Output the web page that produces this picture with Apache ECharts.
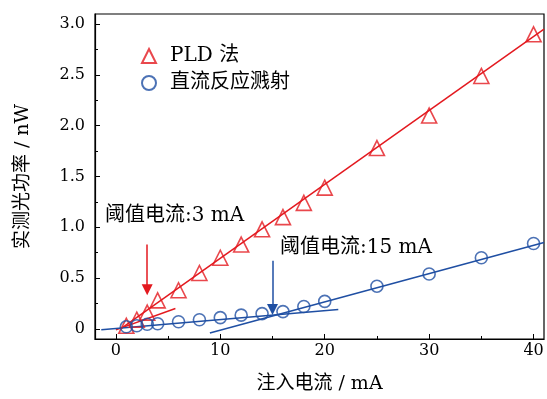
<!DOCTYPE html>
<html>
<head>
<meta charset="utf-8">
<script src="https://cdn.jsdelivr.net/npm/echarts@6/dist/echarts.min.js"></script>
<style>html,body{margin:0;padding:0;background:#fff}#c{width:547px;height:399px}</style>
</head>
<body>
<div id="c"></div>
<script>
// ---- data ----
const currentPLD = [1, 2, 3, 4, 6, 8, 10, 12, 14, 16, 18, 20, 25, 30, 35, 40];
const powerPLD = [0.03, 0.09, 0.16, 0.28, 0.38, 0.55, 0.70, 0.83, 0.98, 1.10, 1.24, 1.39, 1.78, 2.10, 2.49, 2.90];
const currentDC = [1, 2, 3, 4, 6, 8, 10, 12, 14, 16, 18, 20, 25, 30, 35, 40];
const powerDC = [0.02, 0.03, 0.045, 0.05, 0.07, 0.09, 0.11, 0.135, 0.15, 0.17, 0.22, 0.27, 0.42, 0.54, 0.70, 0.84];
const fitPLDLow = [[0.0, -0.01], [5.7, 0.2]];
const fitPLDHigh = [[0.45, 0.0], [41, 2.95]];
const fitDCLow = [[-1.4, -0.01], [21.3, 0.19]];
const fitDCHigh = [[9.0, -0.04], [41, 0.85]];
const arrowPLD = [[3, 0.83], [3, 0.385]];
const arrowDC = [[15, 0.67], [15, 0.19]];
const xTicks = [0, 10, 20, 30, 40];
const xMinorTicks = [5, 15, 25, 35];
const yTicks = [0, 0.5, 1.0, 1.5, 2.0, 2.5, 3.0];
const yMinorTicks = [0.25, 0.75, 1.25, 1.75, 2.25, 2.75];
const seriesNames = ['PLD 法', '直流反应溅射'];
const xTitle = '注入电流 / mA';
const yTitle = '实测光功率 / nW';
const note1 = '阈值电流:3 mA';
const note2 = '阈值电流:15 mA';

const RED = '#e3191f';
const BLUE = '#1f4fa3';
const FF = '"DejaVu Serif", "Noto Sans CJK SC", serif';

const zip = (a, b) => a.map((v, i) => [v, b[i]]);

const chart = echarts.init(document.getElementById('c'), null, {renderer: 'canvas'});

function fitLine(pts, color) {
  return {type: 'line', data: pts, symbol: 'none', clip: true, silent: true, z: 2,
    lineStyle: {color: color, width: 1.5}};
}
function arrow(pts, color) {
  return {type: 'line', data: [], silent: true, z: 3,
    markLine: {silent: true, animation: false, symbol: ['none', 'triangle'], symbolSize: 11,
      label: {show: false},
      lineStyle: {color: color, width: 1.5, type: 'solid'},
      itemStyle: {color: color},
      data: [[{coord: pts[0]}, {coord: pts[1]}]]}};
}

const option = {
  animation: false,
  backgroundColor: '#fff',
  grid: {left: 95, right: 3, top: 14, bottom: 58, show: true, borderColor: '#000', borderWidth: 1.2},
  legend: {
    data: seriesNames, orient: 'vertical', left: 136, top: 41,
    itemWidth: 14, itemHeight: 14, itemGap: 7,
    textStyle: {fontSize: 20, lineHeight: 20, fontFamily: FF, color: '#000', padding: [0, 0, 0, 9]}
  },
  xAxis: [{
    type: 'value', min: -2, max: 41,
    name: xTitle, nameLocation: 'middle', nameGap: 36,
    nameTextStyle: {fontSize: 19, fontFamily: FF, color: '#000'},
    axisLine: {onZero: false, lineStyle: {color: '#000', width: 1.2}},
    axisTick: {inside: true, length: 5, customValues: xTicks, lineStyle: {color: '#000'}},
    axisLabel: {customValues: xTicks, fontSize: 16, fontFamily: FF, color: '#000', margin: 4},
    splitLine: {show: false}
  }, {
    type: 'value', min: -2, max: 41, position: 'bottom',
    axisLine: {show: false, onZero: false},
    axisTick: {inside: true, length: 3, customValues: xMinorTicks, lineStyle: {color: '#000'}},
    axisLabel: {show: false}, splitLine: {show: false}
  }],
  yAxis: [{
    type: 'value', min: -0.1, max: 3.1,
    name: yTitle, nameLocation: 'middle', nameGap: 62, nameRotate: 90,
    nameTextStyle: {fontSize: 19, fontFamily: FF, color: '#000'},
    axisLine: {show: true, onZero: false, lineStyle: {color: '#000', width: 1.2}},
    axisTick: {show: true, inside: true, length: 5, customValues: yTicks, lineStyle: {color: '#000'}},
    axisLabel: {customValues: yTicks, fontSize: 16, fontFamily: FF, color: '#000', margin: 10,
      formatter: v => (v === 0 ? '0' : v.toFixed(1))},
    splitLine: {show: false}
  }, {
    type: 'value', min: -0.1, max: 3.1, position: 'left',
    axisLine: {show: false, onZero: false},
    axisTick: {show: true, inside: true, length: 3, customValues: yMinorTicks, lineStyle: {color: '#000'}},
    axisLabel: {show: false}, splitLine: {show: false}
  }],
  series: [
    fitLine(fitPLDLow, RED),
    fitLine(fitPLDHigh, RED),
    fitLine(fitDCLow, BLUE),
    fitLine(fitDCHigh, BLUE),
    arrow(arrowPLD, RED),
    arrow(arrowDC, BLUE),
    {
      name: seriesNames[0], type: 'scatter', symbol: 'triangle', symbolSize: 15, z: 5,
      data: zip(currentPLD, powerPLD),
      itemStyle: {color: 'rgba(255,255,255,0)', borderColor: RED, borderWidth: 1.6}
    },
    {
      name: seriesNames[1], type: 'scatter', symbol: 'circle', symbolSize: 12, z: 5,
      data: zip(currentDC, powerDC),
      itemStyle: {color: 'rgba(255,255,255,0)', borderColor: BLUE, borderWidth: 1.6}
    }
  ],
  graphic: [
    {type: 'text', left: 105, top: 206, z: 10,
      style: {text: note1, font: '20px ' + FF, fill: '#000'}},
    {type: 'text', left: 280, top: 238, z: 10,
      style: {text: note2, font: '20px ' + FF, fill: '#000'}}
  ]
};
chart.setOption(option);
</script>
</body>
</html>
